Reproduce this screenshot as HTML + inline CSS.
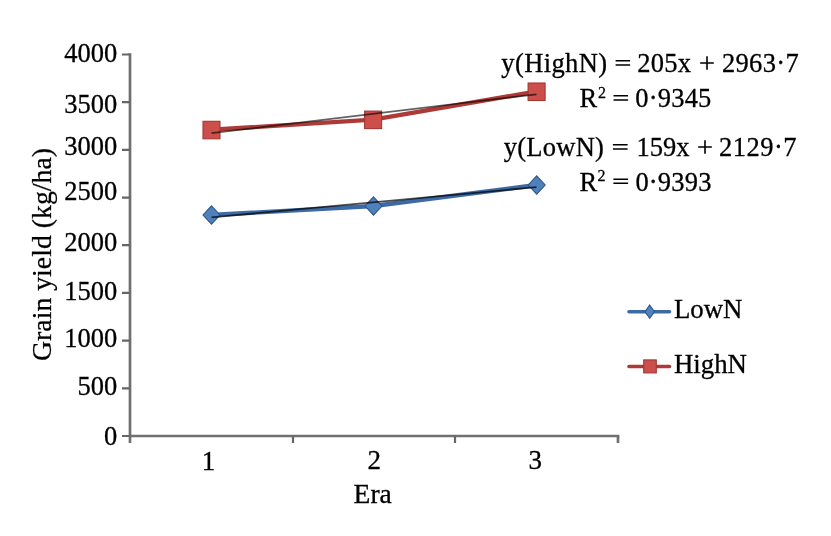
<!DOCTYPE html>
<html>
<head>
<meta charset="utf-8">
<style>
html,body{margin:0;padding:0;background:#fff;}
body{width:831px;height:536px;overflow:hidden;}
svg{display:block;will-change:transform;}
text{font-family:"Liberation Serif",serif;fill:#000;stroke:#000;stroke-width:0.3;}
</style>
</head>
<body>
<svg width="831" height="536" viewBox="0 0 831 536">
<rect width="831" height="536" fill="#fff"/>
<g>
<g stroke="#707070" stroke-width="2.7" fill="none">
<path d="M130 53.15V443"/>
<path d="M122 436.0H130M122 388.3H130M122 340.6H130M122 292.9H130M122 245.2H130M122 197.6H130M122 149.9H130M122 102.2H130M122 54.5H130" stroke-width="2.2" stroke="#666"/>
<path d="M130 436H619.35"/>
<path d="M293 436V443M455 436V443" stroke-width="2.2" stroke="#666"/>
<path d="M618 436V443"/>
</g>
<g font-size="26.5" text-anchor="end">
<text x="117.3" y="445.0">0</text>
<text x="117.3" y="394.9">500</text>
<text x="117.3" y="346.9">1000</text>
<text x="117.3" y="299.9">1500</text>
<text x="117.3" y="251.2">2000</text>
<text x="117.3" y="200.25">2500</text>
<text x="117.3" y="155.1">3000</text>
<text x="117.3" y="113.0">3500</text>
<text x="117.3" y="61.9">4000</text>
</g>
<g font-size="27" text-anchor="middle">
<text x="208.6" y="470">1</text>
<text x="374.2" y="468.5">2</text>
<text x="535.2" y="469.3">3</text>
</g>
<text x="372.7" y="503.2" font-size="27.5" text-anchor="middle">Era</text>
<text font-size="27.8" text-anchor="middle" style="stroke-width:0.25px" transform="translate(50.8 254.5) rotate(-90)">Grain yield (kg/ha)</text>

<polyline points="211.5,129.8 373.1,119.6 536.6,91.5" fill="none" stroke="#ad3a37" stroke-width="4.4" stroke-linejoin="round"/>
<g fill="#cd4f4c" stroke="#a33734" stroke-width="1.1">
<rect x="203" y="121.3" width="17" height="17.5"/>
<rect x="364.6" y="111.1" width="17" height="17.5"/>
<rect x="528.1" y="83" width="17" height="17.5"/>
</g>
<polyline points="211.5,215 373.5,206 536.7,185" fill="none" stroke="#3e6aa3" stroke-width="4.4" stroke-linejoin="round"/>
<g fill="#4f81bd" stroke="#2f5587" stroke-width="1.1">
<path d="M211.5 205.8L220 215L211.5 224.2L203 215Z"/>
<path d="M373.5 196.8L382 206L373.5 215.2L365 206Z"/>
<path d="M536.7 175.8L545.2 185L536.7 194.2L528.2 185Z"/>
</g>
<g stroke-width="1.9" fill="none">
<path d="M211.5 133.1L536.5 94.3" stroke="#000" stroke-opacity="0.62" stroke-width="1.7"/>
<path d="M211.5 217.4L536.5 187.1" stroke="#000" stroke-opacity="0.7" stroke-width="1.8"/>
</g>

<g font-size="26.5">
<text x="501.3" y="72.3" letter-spacing="0.4">y(HighN)</text>
<text x="637.3" y="72.3" letter-spacing="0.2">205x</text>
<text x="721.9" y="72.3" letter-spacing="0.35">2963·7</text>
<text x="579.4" y="107.3">R</text>
<text x="598" y="97.9" font-size="16">2</text>
<text x="635.3" y="107.3" letter-spacing="0.2">0·9345</text>
<text x="503.8" y="156.3" letter-spacing="0.25">y(LowN)</text>
<text x="636.5" y="156.3">159x</text>
<text x="719.1" y="156.3" letter-spacing="0.45">2129·7</text>
<text x="579.6" y="190.7">R</text>
<text x="597.6" y="181.3" font-size="16">2</text>
<text x="635.4" y="190.7" letter-spacing="0.2">0·9393</text>
</g>
<g fill="none">
<path d="M615.6 60.80H630.1M615.6 64.95H630.1" stroke="#000" stroke-width="1.5"/>
<path d="M700.15 63.00H713.85M707.00 56.15V69.85" stroke="#000" stroke-width="1.6"/>
<path d="M613.5 95.80H628.1M613.5 99.95H628.1" stroke="#000" stroke-width="1.5"/>
<path d="M612.9 144.80H627.6M612.9 148.95H627.6" stroke="#000" stroke-width="1.5"/>
<path d="M698.15 147.00H711.85M705.00 140.15V153.85" stroke="#000" stroke-width="1.6"/>
<path d="M613.4 179.20H628.1M613.4 183.35H628.1" stroke="#000" stroke-width="1.5"/>
</g>

<path d="M629 311.8H669.5" stroke="#3e6aa3" stroke-width="3.6" stroke-linecap="round"/>
<path d="M649.7 305L654.5 311.7L649.7 318.3L645 311.7Z" fill="#4f81bd" stroke="#2f5587" stroke-width="1.1"/>
<path d="M629 366.5H669.5" stroke="#ad3a37" stroke-width="3.6" stroke-linecap="round"/>
<rect x="643.7" y="359.9" width="12.6" height="13" fill="#cd4f4c" stroke="#a33734" stroke-width="1.1"/>
<g font-size="26.8">
<text x="674" y="318.2">LowN</text>
<text x="674" y="372.8">HighN</text>
</g>
</g>
</svg>
</body>
</html>
